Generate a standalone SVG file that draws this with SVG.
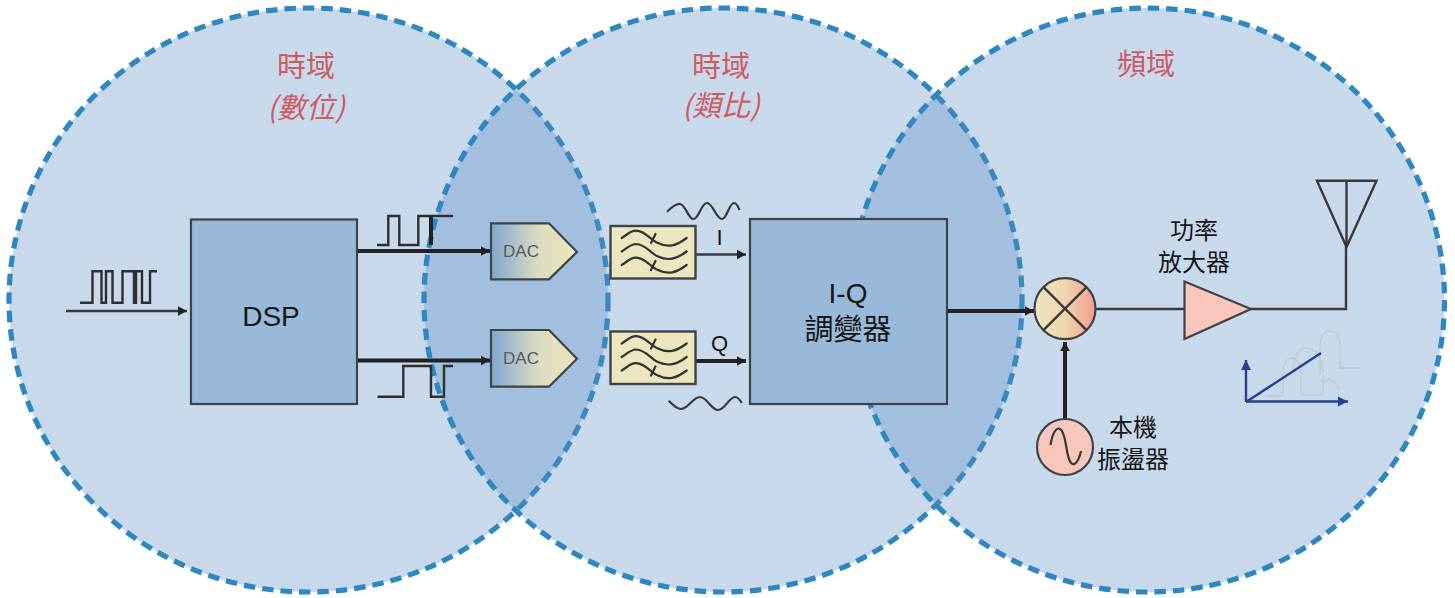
<svg xmlns="http://www.w3.org/2000/svg" width="1455" height="598" viewBox="0 0 1455 598">
<style>
.zone{fill:#588cc5;fill-opacity:.33;stroke:#2e87bf;stroke-width:5.2;stroke-dasharray:11.5 7}
.box{fill:#98b9da;stroke:#3f4347;stroke-width:2.2}
.line{fill:none;stroke:#2f2f30;stroke-width:2.4;stroke-linejoin:miter}
.thick{fill:none;stroke:#222;stroke-width:4}
.wire{fill:none;stroke:#3a3a3c;stroke-width:2.4}
.wave{fill:none;stroke:#38383a;stroke-width:2.2;stroke-linejoin:round}
.curve{fill:none;stroke:#333;stroke-width:2.2;stroke-linecap:round}
.pale{fill:none;stroke:#c2cad2;stroke-width:1.5}
.axis{fill:none;stroke:#24408e;stroke-width:2.4}
.title{font-family:"Noto Sans CJK TC","Noto Sans CJK SC",sans-serif;font-size:29px;fill:#cc5c62;text-anchor:middle}
.sub{font-style:italic;font-size:29px}
.label{font-family:"Liberation Sans","Noto Sans CJK TC",sans-serif;fill:#151515;text-anchor:middle}
.cjk{font-family:"Noto Sans CJK TC","Noto Sans CJK SC",sans-serif;font-size:24px;fill:#151515;text-anchor:middle}
.dac{font-family:"Liberation Sans",sans-serif;font-size:17px;fill:#58585c;text-anchor:middle}
.filt{fill:#ebe6bd;stroke:#3f4347;stroke-width:2.4}
.dacs{fill:url(#dacg);stroke:#3f4347;stroke-width:2.2;stroke-linejoin:miter}
.peach{fill:#f9c6bb;stroke:#3f4347;stroke-width:2.2}
</style>
<defs>
<marker id="ah" markerUnits="userSpaceOnUse" markerWidth="10" markerHeight="12" refX="9" refY="6" orient="auto"><path d="M0 1.200L9 6L0 10.800z" fill="#222"/></marker>
<marker id="bh" markerUnits="userSpaceOnUse" markerWidth="12" markerHeight="12" refX="10" refY="6" orient="auto"><path d="M0 1L10 6L0 11z" fill="#24408e"/></marker>
<linearGradient id="dacg" x1="0" x2="1" y1="0" y2="0"><stop offset="0" stop-color="#7fa7d0"/><stop offset=".55" stop-color="#dcdcc0"/><stop offset="1" stop-color="#ebe6bd"/></linearGradient>
<linearGradient id="mixg" x1="0" x2="1" y1="0" y2="0"><stop offset="0" stop-color="#ece8bd"/><stop offset=".5" stop-color="#efd5ae"/><stop offset="1" stop-color="#f19c8e"/></linearGradient>
<g id="filterCurves">
<path class="curve" d="M621.7 238C628 234 631 230.500 636 230.700C646 231 650 240 658 243C668 248 676 246 686.700 238"/>
<path class="curve" d="M621.700 251.500C628 247.500 631 244 636 244C646 244.300 650 253 658 256.500C668 261 676 259.500 686.700 251.500"/>
<path class="curve" d="M621.700 265C628 261 631 257.500 636 257.700C646 258 650 267 658 270C668 275 676 273 686.700 265"/>
<path class="curve" d="M655.500 234L651 243M655.500 261L651 270"/>
</g>
</defs>
<g id="zones">
<ellipse id="zone-digital" class="zone" cx="308.500" cy="300" rx="299.500" ry="292"/>
<ellipse id="zone-analog" class="zone" cx="723" cy="300" rx="299" ry="292"/>
<ellipse id="zone-frequency" class="zone" cx="1147.500" cy="300" rx="297" ry="292"/>
</g>
<g id="zone-titles">
<text class="title" x="306" y="77">時域</text>
<text class="title sub" x="306" y="118">(數位)</text>
<text class="title" x="721" y="77">時域</text>
<text class="title sub" x="721" y="116">(類比)</text>
<text class="title" x="1146" y="75">頻域</text>
</g>
<g id="connectors">
<path class="wire" marker-end="url(#ah)" d="M66 311H187"/>
<path class="thick" marker-end="url(#ah)" d="M357 251H490"/>
<path class="thick" marker-end="url(#ah)" d="M357 360.500H490"/>
<path class="wire" marker-end="url(#ah)" d="M696 254.500H746"/>
<path class="thick" marker-end="url(#ah)" d="M696 361H746"/>
<path class="thick" marker-end="url(#ah)" d="M947 311H1034"/>
<path class="thick" marker-end="url(#ah)" d="M1065 419V342"/>
<path class="wire" d="M1096 309H1185"/>
<path class="wire" d="M1251 309H1346V247"/>
</g>
<g id="signals">
<path class="line" d="M80 302.700H92.500V271.300H101.500V302.700H106V271.300H112.500V302.700H122.500V271.300H134V302.700H136V271.300H142V302.700H150V271.300H157"/>
<path class="line" d="M377 245H388.300V216H399.300V245H418.300V216H453"/>
<path class="thick" d="M431 216V245"/>
<path class="line" d="M377.500 396.700H403.300V366H431V396.700H444V366H453"/>
<path class="wave" d="M667 211.700C672 207 676 203.500 680 204C686 205 688 219 693.500 219C699 219 701 203 707 203C713 203 716 219 722 219C727 219 729 203 734 203C737 203 738 207 739.500 210"/>
<path class="wave" d="M668.700 400.700C673 405 676 409 681 409C688 409 693 397 700 397C707 397 711 410 718 410C725 410 729 397 735 397C738 397 740 400 741.700 403"/>
</g>
<g id="dsp"><rect class="box" x="191" y="219.500" width="166" height="184.500"/><text class="label" x="271" y="326" font-size="28">DSP</text></g>
<g id="dac-i"><path class="dacs" d="M491 223.300H549L577 252L549 279.300H491z"/><text class="dac" x="521" y="257">DAC</text></g>
<g id="dac-q"><path class="dacs" d="M491 330H549L577 358.700L549 386.700H491z"/><text class="dac" x="521" y="364">DAC</text></g>
<g id="filter-i"><rect class="filt" x="610.500" y="226" width="85" height="52.500"/><use href="#filterCurves"/></g>
<g id="filter-q"><rect class="filt" x="610.500" y="331.500" width="85" height="52.500"/><use href="#filterCurves" y="105.500"/></g>
<g id="label-i"><text class="label" x="719.500" y="245" font-size="22">I</text></g>
<g id="label-q"><text class="label" x="719.500" y="351" font-size="22">Q</text></g>
<g id="iq-modulator"><rect class="box" x="750" y="219" width="197" height="185"/><text class="label" x="848" y="303" font-size="28">I-Q</text><text class="cjk" x="848" y="340" style="font-size:29px">調變器</text></g>
<g id="mixer"><circle cx="1065" cy="308.700" r="30.500" fill="url(#mixg)" stroke="#3f4347" stroke-width="2.200"/><path class="wire" d="M1043.500 287.200L1086.500 330.200M1086.500 287.200L1043.500 330.200"/></g>
<g id="oscillator"><circle class="peach" cx="1065" cy="447" r="28"/><path class="wave" d="M1050.500 445C1053 430 1058 425 1062 431C1067 440 1066 457 1071 463C1075 467 1079 460 1081 451"/><text class="cjk" x="1133" y="436">本機</text><text class="cjk" x="1133" y="468">振盪器</text></g>
<g id="amplifier"><path class="peach" d="M1184.500 281.500L1251 309L1184.500 339z"/><text class="cjk" x="1194" y="239">功率</text><text class="cjk" x="1194" y="271">放大器</text></g>
<g id="antenna"><path class="wire" d="M1317 180.700H1376.500L1346.500 247zM1346.500 180.700V247"/></g>
<g id="spectrum">
<path class="pale" d="M1265 395.700H1283V372C1284 362 1288 358 1292 358C1297 358 1300 364 1301 372V395H1323V375M1293 372C1294 356 1299 348 1306 348C1315 348 1322 356 1323 372M1320 375V345C1321 335 1325 331 1330 331C1336 331 1340 336 1340 345V368H1360M1323 384C1328 376 1333 378 1340 390"/>
<path class="axis" marker-end="url(#bh)" d="M1246 402V360"/>
<path class="axis" marker-end="url(#bh)" d="M1246 401.500H1348"/>
<path class="axis" d="M1246 402L1321 353"/>
</g>
</svg>
